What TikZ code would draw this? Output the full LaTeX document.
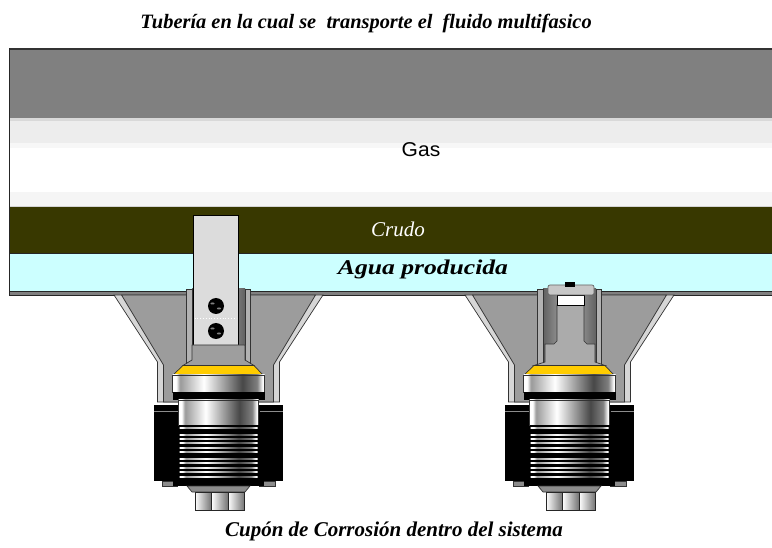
\documentclass[tikz,border=0pt]{standalone}
\usepackage{fontspec}
\setmainfont{Liberation Serif}
\newfontfamily\gasfont{Liberation Sans}

% polished-metal look for the coupon body, sleeve and thread crests
\pgfdeclarehorizontalshading{metal}{100bp}{color(0bp)=(white); color(25bp)=(white); color(27bp)=(white); color(29bp)=(black!40); color(42bp)=(white); color(63bp)=(black!72); color(71bp)=(black!50); color(74bp)=(white); color(100bp)=(white)}

\definecolor{pipegray}{HTML}{808080}
\definecolor{crude}{HTML}{383800}
\definecolor{water}{HTML}{CCFFFF}
\definecolor{brass}{HTML}{FFCC00}
\definecolor{hopperlight}{HTML}{D6D6D6}
\definecolor{hopperdark}{HTML}{9C9C9C}
\definecolor{stripgray}{HTML}{DCDCDC}

\tikzset{
  edge/.style={draw=black!80, line width=0.7pt},
  wall/.style={fill=black!30, edge},
  hexcell/.style={left color=white, right color=black!55, draw=black!85, line width=0.7pt},
  threadline/.style={shading=metal},
  label/.style={anchor=base, inner sep=0pt}
}

% hopper, tube walls and the lower assembly shared by both access fittings
\newcommand\fittinghopper{%
  \filldraw[fill=hopperlight, edge] (-104.5,295) -- (-61,362) -- (-61,402) -- (61,402) -- (61,362) -- (104.5,295) -- cycle;
  \filldraw[fill=hopperdark, edge] (-97,295) -- (-55,365) -- (-55,402) -- (55,402) -- (55,365) -- (97,295) -- cycle;
  \fill[left color=black!62, right color=black!62, middle color=black!30] (-26.5,289) rectangle (26.5,366);
  \filldraw[wall] (-32,289) rectangle (-26.5,366);
  \filldraw[wall] (26.5,289) rectangle (32,366);
}
\newcommand\fittinglower{%
  % brass seal ring
  \filldraw[fill=brass, edge] (-35.5,365.5) -- (35.5,365.5) -- (44.5,375) -- (-45.5,375) -- cycle;
  % body and black o-ring
  \filldraw[shading=metal, edge] (-46,375) rectangle (46,392);
  \fill[black] (-46,392) rectangle (46,400);
  % outer nut
  \fill[black] (-64.5,405) rectangle (64.5,481);
  \draw[black!45, line width=1pt] (-64.5,411) -- (-41,411);
  \draw[black!45, line width=1pt] (41,411) -- (64.5,411);
  \filldraw[fill=black!45, draw=black!80, line width=0.5pt] (-56.5,481) rectangle (-41,486);
  \filldraw[fill=black!45, draw=black!80, line width=0.5pt] (41,481) rectangle (56.5,486);
  % sleeve and threaded section
  \filldraw[shading=metal, edge] (-40,400) rectangle (40,425);
  \fill[black] (-40,425) rectangle (40,483);
  \fill[black] (-45.5,481) rectangle (45.5,486);
  \foreach \ty in {428,435,439,443,448,452,459,463,468,472,477}
    \fill[threadline] (-39,\ty-0.75) rectangle (39,\ty+0.75);
  % plug and hex head
  \filldraw[fill=black!45, edge] (-31.5,486) -- (31.5,486) -- (26.5,492) -- (-26.5,492) -- cycle;
  \filldraw[hexcell] (-23.5,492) rectangle (-7,510);
  \filldraw[hexcell] (-7,492) rectangle (9.5,510);
  \filldraw[hexcell] (9.5,492) rectangle (26,510);
}

\begin{document}
\begin{tikzpicture}[x=1pt, y=-1pt, line join=miter]
\useasboundingbox (0,0) rectangle (772,548);
\fill[white] (0,0) rectangle (772,548);

% ---- pipe with the three phases ----
\fill[pipegray] (9,49) rectangle (772,118);
\fill[black!15] (9,118) rectangle (772,121);
\fill[black!7] (9,121) rectangle (772,145);
\fill[black!3] (9,143) rectangle (772,148);
\fill[black!4] (9,192) rectangle (772,206);
\fill[black!17] (9,206) rectangle (772,207.5);
\fill[crude] (9,207.5) rectangle (772,253);
\fill[water] (9,253) rectangle (772,291);
\draw[black!85, line width=0.8pt] (9,253) -- (772,253);
\filldraw[fill=pipegray, draw=black!85, line width=0.7pt] (9,291) rectangle (773,295);
\draw[black!80, line width=1.2pt] (9,49) -- (773,49);
\draw[black!85, line width=1.4pt] (9.5,48.5) -- (9.5,295);

% ---- text inside the pipe ----
\node[label, xscale=1.05, font=\gasfont\fontsize{20}{24}\selectfont] (gas) at (421,157) {Gas};
\node[label, text=white, font=\fontsize{21}{24}\selectfont\itshape] (crudo) at (398,236.5) {Crudo};
\node[label, xscale=1.22, font=\fontsize{21}{24}\selectfont\bfseries\itshape] (agua) at (423,275) {Agua producida};

% ---- coupon holder (flat strip coupon) ----
\begin{scope}[shift={(218.5,0)}]
  \fittinghopper
  \filldraw[fill=stripgray, draw=black, line width=0.8pt] (-25.5,215) rectangle (19.5,345);
  \draw[white, dotted, line width=0.8pt] (-24,318.5) -- (18,318.5);
  \foreach \by in {306,331} {
    \fill[black] (-2.5,\by) circle (8);
    \fill[black!50] (-6,\by-2.5) ellipse (2.2 and 1);
    \fill[black!50] (0.5,\by+2.5) ellipse (2.2 and 1);
  }
  \filldraw[fill=black!38, edge] (-26.5,345) -- (-26.5,360) -- (-35.5,365.5) -- (35.5,365.5) -- (26.5,360) -- (26.5,345) -- cycle;
  \fittinglower
\end{scope}

% ---- coupon holder (plug coupon with cap) ----
\begin{scope}[shift={(569.5,0)}]
  \fittinghopper
  \filldraw[fill=black!33, edge] (-12.5,305) -- (-12.5,341) -- (-15.5,344) -- (-24.5,344) -- (-24.5,362) -- (-35.5,365.5) -- (35.5,365.5) -- (25.5,362) -- (25.5,344) -- (17.5,344) -- (14.5,341) -- (14.5,305) -- cycle;
  \filldraw[fill=white, draw=black, line width=0.7pt] (-12.5,295) rectangle (14.5,305);
  \filldraw[fill=black!22, draw=black!60, line width=0.7pt, rounded corners=2pt] (-21.5,285) rectangle (24.5,295);
  \fill[black] (-4.5,282) rectangle (5.5,287);
  \fittinglower
\end{scope}

% ---- headings ----
\node[label, font=\fontsize{20.4}{24}\selectfont\bfseries\itshape] (title) at (366,28.3) {Tubería en la cual se\ \ transporte el\ \ fluido multifasico};
\node[label, font=\fontsize{21}{24}\selectfont\bfseries\itshape] (caption) at (394,536) {Cupón de Corrosión dentro del sistema};
\end{tikzpicture}
\end{document}
